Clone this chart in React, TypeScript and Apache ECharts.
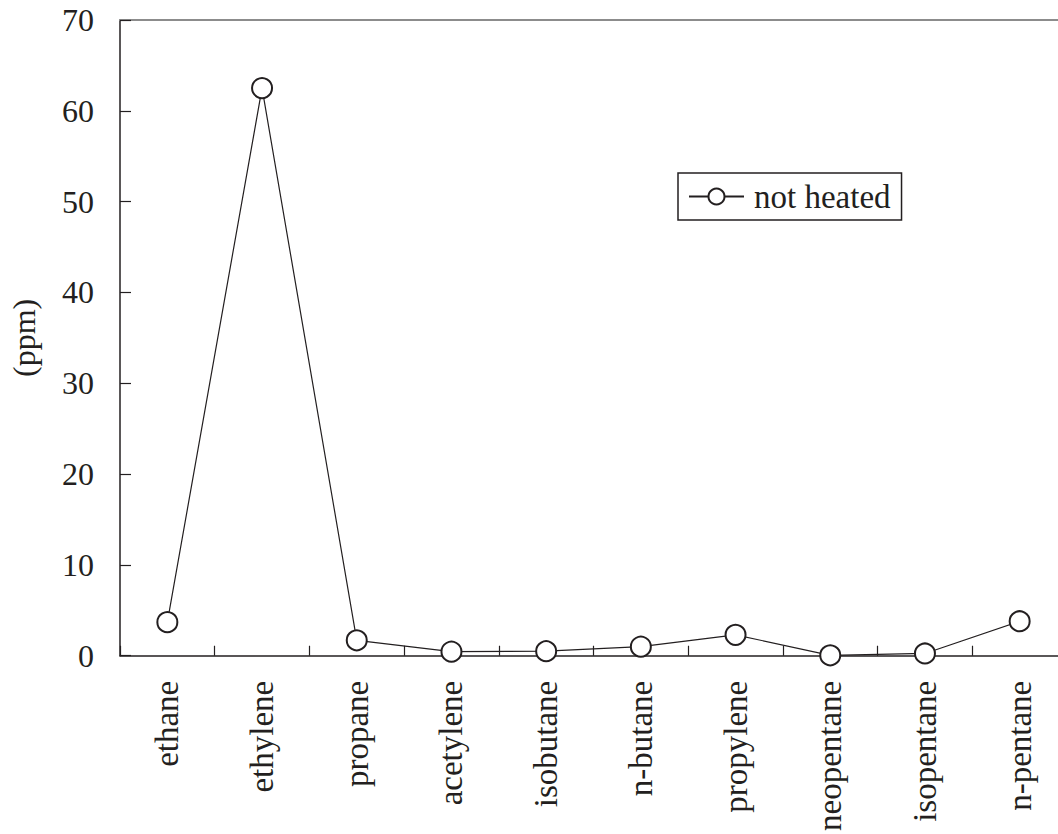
import React, { useEffect, useRef } from "react";
import * as echarts from "echarts";

const categories = [
  "ethane",
  "ethylene",
  "propane",
  "acetylene",
  "isobutane",
  "n-butane",
  "propylene",
  "neopentane",
  "isopentane",
  "n-pentane",
];
const notHeated = [3.7, 62.5, 1.7, 0.45, 0.5, 1.0, 2.3, 0.05, 0.25, 3.8];
const yTicks = { min: 0, max: 70, interval: 10 };

const INK = "#231f20";
const FONT = "'Liberation Serif', 'Times New Roman', serif";

export default function App() {
  const ref = useRef<HTMLDivElement>(null);
  useEffect(() => {
    if (!ref.current) return;
    const chart = echarts.init(ref.current, undefined, { renderer: "svg" });
    chart.setOption({
      animation: false,
      backgroundColor: "#ffffff",
      grid: { left: 117, top: 20, width: 950, height: 637, containLabel: false },
      legend: {
        left: 678,
        top: 173,
        padding: [7, 11, 7, 10],
        itemWidth: 55,
        itemHeight: 20,
        itemGap: 6,
        borderColor: INK,
        borderWidth: 1.5,
        borderRadius: 0,
        textStyle: { fontFamily: FONT, fontSize: 33, color: INK, padding: [0, 0, 0, 5] },
        data: ["not heated"],
      },
      xAxis: [
        {
          type: "category",
          data: categories,
          boundaryGap: true,
          axisLine: { lineStyle: { color: INK, width: 1.5 } },
          axisTick: { show: true, inside: true, length: 10, lineStyle: { color: INK, width: 1.2 } },
          axisLabel: {
            rotate: 90,
            margin: 25,
            fontFamily: FONT,
            fontSize: 33,
            color: INK,
            interval: 0,
          },
          splitLine: { show: false },
        },
        {
          type: "category",
          data: categories,
          position: "top",
          axisLine: { show: true, lineStyle: { color: "#8c8c8c", width: 2 } },
          axisTick: { show: false },
          axisLabel: { show: false },
          splitLine: { show: false },
        },
      ],
      yAxis: {
        type: "value",
        min: yTicks.min,
        max: yTicks.max,
        interval: yTicks.interval,
        name: "(ppm)",
        nameLocation: "middle",
        nameRotate: 90,
        nameGap: 80,
        nameTextStyle: { fontFamily: FONT, fontSize: 32, color: INK },
        axisLine: { show: true, lineStyle: { color: INK, width: 1.5 } },
        axisTick: { show: true, inside: true, length: 11, lineStyle: { color: INK, width: 1.2 } },
        axisLabel: { margin: 26, fontFamily: FONT, fontSize: 32, color: INK },
        splitLine: { show: false },
      },
      series: [
        {
          name: "not heated",
          type: "line",
          data: notHeated,
          symbol: "circle",
          symbolSize: 20,
          showAllSymbol: true,
          itemStyle: { color: "#ffffff", borderColor: INK, borderWidth: 2 },
          lineStyle: { color: INK, width: 1.2 },
        },
      ],
    });
    return () => chart.dispose();
  }, []);
  return (
    <div style={{ position: "absolute", left: 0, top: 0, width: 1058, height: 834, overflow: "hidden" }}>
      <div ref={ref} style={{ width: 1080, height: 834 }} />
    </div>
  );
}
